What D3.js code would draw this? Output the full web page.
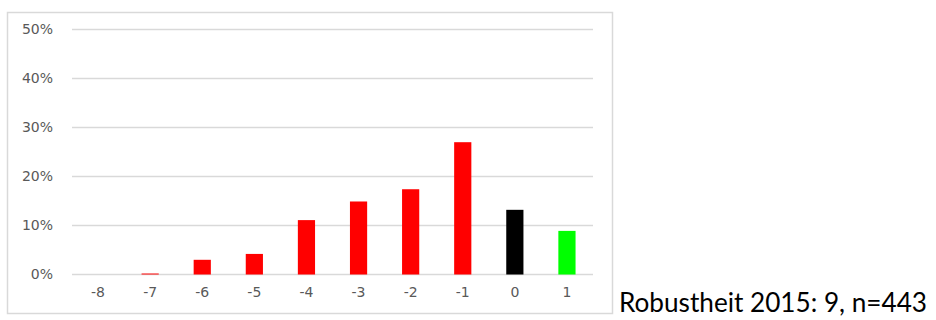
<!DOCTYPE html>
<html><head><meta charset="utf-8">
<script src="https://cdn.jsdelivr.net/npm/d3@7"></script>
<style>body{margin:0;background:#fff}svg{display:block}</style>
</head><body>
<svg id="c" width="936" height="320"></svg>
<script>
const categories = ["-8","-7","-6","-5","-4","-3","-2","-1","0","1"];
const values = [0, 0.002, 0.030, 0.042, 0.111, 0.149, 0.174, 0.270, 0.132, 0.089];
const colors = ["#ff0000","#ff0000","#ff0000","#ff0000","#ff0000","#ff0000","#ff0000","#ff0000","#000000","#00ff00"];
const yTicks = [0, 0.1, 0.2, 0.3, 0.4, 0.5];
const caption = "Robustheit 2015: 9, n=443";

const svg = d3.select("#c");
svg.append("rect").attr("x",7.5).attr("y",12.5).attr("width",605).attr("height",301)
  .attr("fill","#fff").attr("stroke","#d9d9d9").attr("stroke-width",1.5);

const x = d3.scaleBand().domain(categories).range([72,593]).paddingInner(0.67).paddingOuter(0.335);
const y = d3.scaleLinear().domain([0,0.5]).range([274.5,29.5]);

svg.append("g").selectAll("line").data(yTicks).join("line")
  .attr("x1",72).attr("x2",593).attr("y1",d=>y(d)).attr("y2",d=>y(d))
  .attr("stroke","#d9d9d9").attr("stroke-width",1.3);

const yAxis = svg.append("g").attr("transform","translate(53,0)")
  .call(d3.axisLeft(y).tickValues(yTicks).tickFormat(d3.format(".0%")).tickSize(0).tickPadding(0))
  .attr("font-family","'DejaVu Sans',sans-serif").attr("font-size",14);
yAxis.select(".domain").remove();
yAxis.selectAll("text").attr("fill","#595959");

svg.append("g").selectAll("rect").data(categories).join("rect")
  .attr("x",d=>x(d)).attr("width",x.bandwidth())
  .attr("y",(d,i)=>y(values[i])).attr("height",(d,i)=>y(0)-y(values[i]))
  .attr("fill",(d,i)=>colors[i]);

const xAxis = svg.append("g").attr("transform","translate(0,287)")
  .call(d3.axisBottom(x).tickSize(0).tickPadding(0))
  .attr("font-family","'DejaVu Sans',sans-serif").attr("font-size",14);
xAxis.select(".domain").remove();
xAxis.selectAll("text").attr("fill","#595959");

svg.append("text").attr("x",619).attr("y",312).text(caption)
  .attr("fill","#000").attr("font-family","Lato,sans-serif").attr("font-size",26)
  .attr("textLength",308).attr("lengthAdjust","spacingAndGlyphs");
</script>
</body></html>
